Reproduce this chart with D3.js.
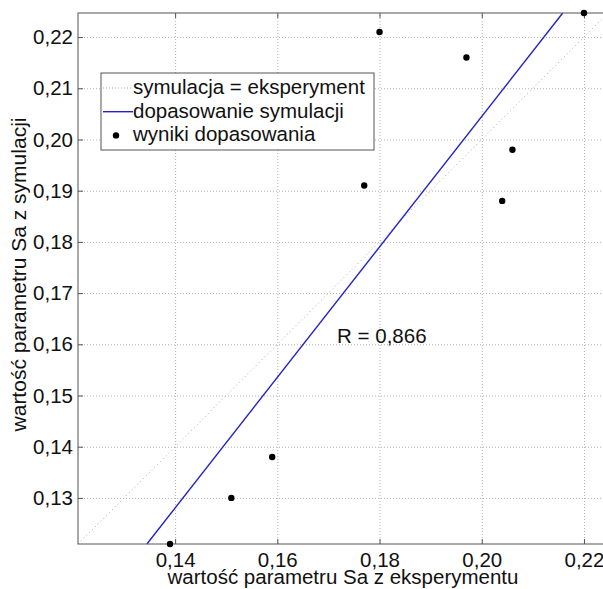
<!DOCTYPE html>
<html>
<head>
<meta charset="utf-8">
<script src="https://cdn.jsdelivr.net/npm/d3@7"></script>
<style>
  body { margin: 0; background: #fff; }
  svg { display: block; font-family: "Liberation Sans", Arial, sans-serif; }
</style>
</head>
<body>
<div id="chart"></div>
<script>
// wartości z eksperymentu i z symulacji
const expValues = [0.139, 0.151, 0.159, 0.177, 0.180, 0.197, 0.206, 0.204, 0.220];
const simValues = [0.121, 0.130, 0.138, 0.191, 0.221, 0.216, 0.198, 0.188, 0.2247];
const xTicks = [0.14, 0.16, 0.18, 0.20, 0.22];
const yTicks = [0.13, 0.14, 0.15, 0.16, 0.17, 0.18, 0.19, 0.20, 0.21, 0.22];
const legendLabels = ["symulacja = eksperyment", "dopasowanie symulacji", "wyniki dopasowania"];
const rLabel = "R = 0,866";
const xTitle = "wartość parametru Sa z eksperymentu";
const yTitle = "wartość parametru Sa z symulacji";

const width = 603;
const height = 589;
const plot = { left: 78, top: 13, right: 608, bottom: 544 };
const fontSize = 20.5;

const data = expValues.map((x, i) => ({ x: x, y: simValues[i] }));

// wspólny zakres osi (axis tight / equal)
const lo = d3.min(data, d => Math.min(d.x, d.y));
const hi = d3.max(data, d => Math.max(d.x, d.y));

const x = d3.scaleLinear().domain([lo, hi]).range([plot.left, plot.right]);
const y = d3.scaleLinear().domain([lo, hi]).range([plot.bottom, plot.top]);

// regresja liniowa
const mx = d3.mean(data, d => d.x);
const my = d3.mean(data, d => d.y);
const sxy = d3.sum(data, d => (d.x - mx) * (d.y - my));
const sxx = d3.sum(data, d => (d.x - mx) * (d.x - mx));
const slope = sxy / sxx;
const intercept = my - slope * mx;

const pl = d3.formatLocale({ decimal: ",", thousands: " ", grouping: [3], currency: ["", " zł"] });
const fmt = pl.format(".2f");

const svg = d3.select("#chart")
  .append("svg")
  .attr("width", width)
  .attr("height", height);

// siatka
svg.append("g")
  .attr("transform", `translate(0, ${plot.bottom})`)
  .call(d3.axisBottom(x).tickValues(xTicks).tickSize(-(plot.bottom - plot.top)).tickFormat(""))
  .call(g => g.select(".domain").remove())
  .selectAll("line")
  .attr("stroke", "#b0b0b0")
  .attr("stroke-dasharray", "1,2");

svg.append("g")
  .attr("transform", `translate(${plot.left}, 0)`)
  .call(d3.axisLeft(y).tickValues(yTicks).tickSize(-(plot.right - plot.left)).tickFormat(""))
  .call(g => g.select(".domain").remove())
  .selectAll("line")
  .attr("stroke", "#b0b0b0")
  .attr("stroke-dasharray", "1,2");

// linia symulacja = eksperyment
svg.append("line")
  .attr("x1", x(lo)).attr("y1", y(lo))
  .attr("x2", x(hi)).attr("y2", y(hi))
  .attr("stroke", "#a8a8a8")
  .attr("stroke-width", 1)
  .attr("stroke-dasharray", "1,3");

// linia dopasowania
const xa = Math.max(lo, (lo - intercept) / slope);
const xb = Math.min(hi, (hi - intercept) / slope);
svg.append("line")
  .attr("x1", x(xa)).attr("y1", y(slope * xa + intercept))
  .attr("x2", x(xb)).attr("y2", y(slope * xb + intercept))
  .attr("stroke", "#2222c8")
  .attr("stroke-width", 1.4);

// ramka i osie
svg.append("rect")
  .attr("x", plot.left).attr("y", plot.top)
  .attr("width", plot.right - plot.left)
  .attr("height", plot.bottom - plot.top)
  .attr("fill", "none")
  .attr("stroke", "#555");

const styleAxis = g => {
  g.select(".domain").remove();
  g.selectAll("line").attr("stroke", "#555");
  g.selectAll("text")
    .attr("font-size", fontSize)
    .attr("font-family", "Liberation Sans, Arial, sans-serif")
    .attr("fill", "#111");
};

svg.append("g")
  .attr("transform", `translate(0, ${plot.bottom})`)
  .call(d3.axisBottom(x).tickValues(xTicks).tickSizeInner(-5).tickSizeOuter(0).tickPadding(8).tickFormat(fmt))
  .call(styleAxis);

svg.append("g")
  .attr("transform", `translate(0, ${plot.top})`)
  .call(d3.axisTop(x).tickValues(xTicks).tickSizeInner(-5).tickSizeOuter(0).tickFormat(""))
  .call(styleAxis);

svg.append("g")
  .attr("transform", `translate(${plot.left}, 0)`)
  .call(d3.axisLeft(y).tickValues(yTicks).tickSizeInner(-5).tickSizeOuter(0).tickPadding(5).tickFormat(fmt))
  .call(styleAxis);

svg.append("g")
  .attr("transform", `translate(${plot.right}, 0)`)
  .call(d3.axisRight(y).tickValues(yTicks).tickSizeInner(-5).tickSizeOuter(0).tickFormat(""))
  .call(styleAxis);

// punkty
svg.selectAll(".dot")
  .data(data)
  .enter()
  .append("circle")
  .attr("class", "dot")
  .attr("cx", d => x(d.x))
  .attr("cy", d => y(d.y))
  .attr("r", 3.2)
  .attr("fill", "#000");

// R
svg.append("text")
  .attr("x", x(0.1717))
  .attr("y", y(0.1602))
  .attr("font-size", fontSize)
  .attr("fill", "#111")
  .text(rLabel);

// tytuły osi
svg.append("text")
  .attr("x", (plot.left + plot.right) / 2)
  .attr("y", 584)
  .attr("text-anchor", "middle")
  .attr("font-size", fontSize)
  .attr("fill", "#111")
  .text(xTitle);

svg.append("text")
  .attr("transform", `translate(26, ${(plot.top + plot.bottom) / 2 - 4}) rotate(-90)`)
  .attr("text-anchor", "middle")
  .attr("font-size", 21)
  .attr("fill", "#111")
  .text(yTitle);

// legenda
const legend = svg.append("g").attr("transform", "translate(101, 73)");
legend.append("rect")
  .attr("width", 273).attr("height", 77)
  .attr("fill", "#fff")
  .attr("stroke", "#555");

const rowY = i => 15 + i * 23.7;
legend.append("line")
  .attr("x1", 2).attr("x2", 32).attr("y1", rowY(0)).attr("y2", rowY(0))
  .attr("stroke", "#a8a8a8").attr("stroke-dasharray", "1,2");
legend.append("line")
  .attr("x1", 2).attr("x2", 32).attr("y1", rowY(1)).attr("y2", rowY(1))
  .attr("stroke", "#2222c8").attr("stroke-width", 1.4);
legend.append("circle")
  .attr("cx", 15).attr("cy", rowY(2)).attr("r", 3.2).attr("fill", "#000");

legend.selectAll(".lab")
  .data(legendLabels)
  .enter()
  .append("text")
  .attr("class", "lab")
  .attr("x", 32)
  .attr("y", (d, i) => rowY(i) + 6)
  .attr("font-size", fontSize)
  .attr("fill", "#111")
  .text(d => d);
</script>
</body>
</html>
